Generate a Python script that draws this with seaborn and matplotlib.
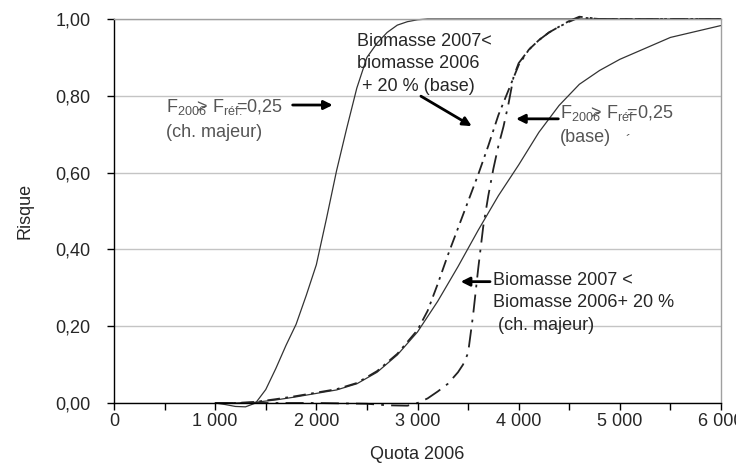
import matplotlib
matplotlib.use("Agg")
import matplotlib.pyplot as plt
from matplotlib.ticker import MultipleLocator, FuncFormatter
import seaborn as sns

# risk curves (quota 2006 -> risk)
quota_f_ch = [1000, 1100, 1200, 1300, 1400, 1500, 1600, 1700, 1800, 1900, 2000, 2100,
              2200, 2300, 2400, 2500, 2600, 2700, 2800, 2900, 3000, 3100, 3500, 4000,
              5000, 6000]
risque_f_ch = [0, -0.004, -0.009, -0.01, 0.0, 0.035, 0.09, 0.15, 0.205, 0.28, 0.36, 0.48,
               0.605, 0.715, 0.82, 0.9, 0.937, 0.965, 0.984, 0.993, 0.998, 1.0, 1.0, 1.0,
               1.0, 1.0]

quota_f_base = [1000, 1200, 1400, 1600, 1800, 2000, 2200, 2400, 2600, 2800, 3000, 3200,
                3400, 3600, 3800, 4000, 4200, 4400, 4600, 4800, 5000, 5500, 6000]
risque_f_base = [0, 0, 0.002, 0.008, 0.016, 0.025, 0.034, 0.05, 0.08, 0.125, 0.185, 0.265,
                 0.355, 0.45, 0.54, 0.62, 0.705, 0.775, 0.83, 0.866, 0.895, 0.952, 0.983]

quota_bio_base = [1000, 1200, 1400, 1600, 1800, 2000, 2200, 2400, 2600, 2800, 3000, 3100,
                  3200, 3300, 3400, 3500, 3600, 3700, 3800, 3900, 4000, 4100, 4200, 4300,
                  4400, 4500, 4600, 4800, 5000, 6000]
risque_bio_base = [0, 0, 0.003, 0.01, 0.018, 0.027, 0.036, 0.052, 0.083, 0.128, 0.19, 0.24,
                   0.31, 0.385, 0.455, 0.525, 0.595, 0.67, 0.75, 0.815, 0.88, 0.92, 0.945,
                   0.965, 0.98, 0.993, 1.004, 1.0, 1.0, 1.0]

quota_bio_ch = [1000, 1500, 2000, 2500, 2700, 2900, 3000, 3100, 3200, 3300, 3400, 3450,
                3500, 3550, 3600, 3650, 3700, 3750, 3800, 3850, 3900, 3950, 4000, 4100,
                4200, 4300, 4400, 4500, 4600, 4800, 5000, 6000]
risque_bio_ch = [0, 0, 0.0, -0.002, -0.006, -0.007, 0, 0.012, 0.03, 0.05, 0.08, 0.1,
                 0.13, 0.23, 0.35, 0.46, 0.54, 0.61, 0.67, 0.72, 0.78, 0.85, 0.885, 0.92,
                 0.945, 0.965, 0.98, 0.995, 1.006, 1.0, 1.0, 1.0]

sns.set_style("white")
plt.rcParams['font.family'] = ['Liberation Sans', 'DejaVu Sans']
plt.rcParams['mathtext.fontset'] = 'custom'
plt.rcParams['mathtext.rm'] = 'Liberation Sans'
plt.rcParams['font.size'] = 13

fig = plt.figure(figsize=(7.36, 4.63), dpi=100)
ax = fig.add_axes([114 / 736, 60 / 463, 607 / 736, 384 / 463])

sns.lineplot(x=quota_f_ch, y=risque_f_ch, ax=ax, color='#333333', lw=0.9, clip_on=False)
sns.lineplot(x=quota_f_base, y=risque_f_base, ax=ax, color='#333333', lw=0.9, clip_on=False)
sns.lineplot(x=quota_bio_base, y=risque_bio_base, ax=ax, color='#222222', lw=1.3,
             linestyle=(0, (7, 3, 1.5, 3)), clip_on=False)
sns.lineplot(x=quota_bio_ch, y=risque_bio_ch, ax=ax, color='#222222', lw=1.3,
             linestyle=(0, (10, 4, 1.5, 4)), clip_on=False)

ax.set_xlim(0, 6000)
ax.set_ylim(0, 1)
ax.xaxis.set_major_locator(MultipleLocator(1000))
ax.xaxis.set_minor_locator(MultipleLocator(500))
ax.yaxis.set_major_locator(MultipleLocator(0.2))
ax.xaxis.set_major_formatter(FuncFormatter(lambda v, p: f"{int(v):,}".replace(',', ' ')))
ax.yaxis.set_major_formatter(FuncFormatter(lambda v, p: f"{v:.2f}".replace('.', ',')))
ax.tick_params(axis='x', which='both', direction='out', length=5, width=1, color='black',
               bottom=True, pad=2)
ax.tick_params(axis='y', direction='out', length=5, width=1, color='black', left=True, pad=12)

ax.yaxis.grid(True, color='#c4c4c4', lw=1)
ax.set_axisbelow(True)
for s in ['left', 'bottom']:
    ax.spines[s].set_color('black')
    ax.spines[s].set_linewidth(1)
for s in ['top', 'right']:
    ax.spines[s].set_color('#a0a0a0')
    ax.spines[s].set_linewidth(1)

ax.set_xlabel('Quota 2006')
ax.set_ylabel('Risque')
ax.xaxis.set_label_coords(0.5, -0.112)
ax.yaxis.set_label_coords(-0.133, 0.5)

gray = '#555555'
arrow = dict(arrowstyle='-|>', color='black', lw=2, mutation_scale=13, shrinkA=0, shrinkB=0)

# F2006 > Fref (ch. majeur)
ax.text(514, 0.757, r'F$_{\mathregular{2006}}\!\!\!$> F$_{\mathregular{réf.}}\!\!\!$=0,25',
        color=gray, va='baseline')
ax.text(514, 0.693, '(ch. majeur)', color=gray, va='baseline')
ax.annotate('', xy=(2162, 0.776), xytext=(1766, 0.776), arrowprops=arrow)

# Biomasse (base)
ax.text(2405, 0.930, 'Biomasse 2007<', va='baseline')
ax.text(2405, 0.872, 'biomasse 2006', va='baseline')
ax.text(2405, 0.813, ' + 20 % (base)', va='baseline')
ax.annotate('', xy=(3536, 0.721), xytext=(3034, 0.799), arrowprops=arrow)

# F2006 > Fref (base)
ax.text(4408, 0.741, r'F$_{\mathregular{2006}}\!\!\!$> F$_{\mathregular{réf}}\!\!$=0,25',
        color=gray, va='baseline')
ax.text(4408, 0.680, '(base)', color=gray, va='baseline')
ax.text(5058, 0.672, '´', color=gray, fontsize=11, va='baseline')
ax.annotate('', xy=(3974, 0.74), xytext=(4392, 0.74), arrowprops=arrow)

# Biomasse (ch. majeur)
ax.text(3749, 0.307, 'Biomasse 2007 <', va='baseline')
ax.text(3749, 0.251, 'Biomasse 2006+ 20 %', va='baseline')
ax.text(3749, 0.190, ' (ch. majeur)', va='baseline')
ax.annotate('', xy=(3427, 0.316), xytext=(3717, 0.316), arrowprops=arrow)

fig.savefig('out.png', dpi=100)
